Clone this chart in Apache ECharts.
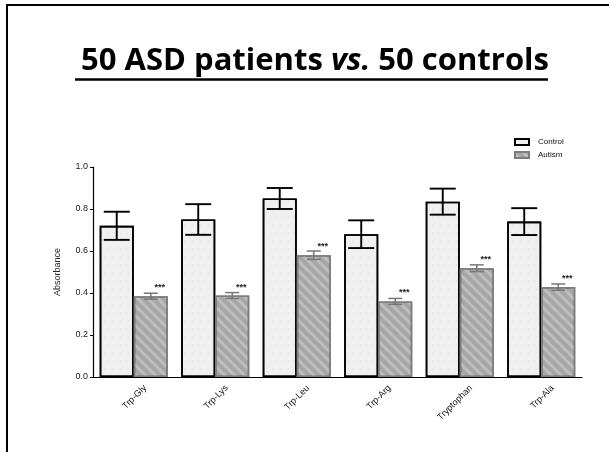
<!DOCTYPE html>
<html>
<head>
<meta charset="utf-8">
<script src="https://cdn.jsdelivr.net/npm/echarts@6/dist/echarts.min.js"></script>
<style>html,body{margin:0;padding:0;background:#fff;}#c{width:609px;height:452px;}</style>
</head>
<body>
<div id="c"></div>
<script>
var categories = ['Trp-Gly', 'Trp-Lys', 'Trp-Leu', 'Trp-Arg', 'Tryptophan', 'Trp-Ala'];
var controlMean = [0.72, 0.75, 0.85, 0.68, 0.835, 0.74];
var controlErr  = [0.067, 0.073, 0.05, 0.066, 0.062, 0.064];
var autismMean  = [0.385, 0.388, 0.58, 0.36, 0.518, 0.428];
var autismErr   = [0.014, 0.014, 0.02, 0.014, 0.016, 0.015];
var yTicks = [0.0, 0.2, 0.4, 0.6, 0.8, 1.0];
var seriesNames = ['Control', 'Autism'];
var sigMark = '***';

var chart = echarts.init(document.getElementById('c'), null, {renderer: 'canvas'});
var CAT_GAP = 0.165;

function errRender(side, errArr, color, capHalf, lw) {
  return function (params, api) {
    var i = api.value(0);
    var m = api.value(1);
    var e = errArr[i];
    var catW = api.size([1, 0])[0];
    var bw = catW * (1 - CAT_GAP) / 2;
    var c = api.coord([i, m]);
    var x = c[0] + side * bw / 2;
    var top = api.coord([i, m + e])[1];
    var bot = api.coord([i, m - e])[1];
    var st = {stroke: color, lineWidth: lw};
    return {
      type: 'group',
      children: [
        {type: 'line', shape: {x1: x, y1: top, x2: x, y2: bot}, style: st},
        {type: 'line', shape: {x1: x - capHalf, y1: top, x2: x + capHalf, y2: top}, style: st},
        {type: 'line', shape: {x1: x - capHalf, y1: bot, x2: x + capHalf, y2: bot}, style: st}
      ]
    };
  };
}

var TF = '"Open Sans", Roboto, sans-serif';
var option = {
  backgroundColor: '#fff',
  animation: false,
  title: {
    text: '{a|50 ASD patients }{b|vs.}{a| 50 controls}',
    left: 310,
    textAlign: 'center',
    top: 41,
    textStyle: {
      rich: {
        a: {fontFamily: TF, fontWeight: 'bold', fontSize: 31, color: '#000'},
        b: {fontFamily: TF, fontWeight: 'bold', fontStyle: 'italic', fontSize: 31, color: '#000'}
      }
    }
  },
  graphic: [
    {type: 'rect', shape: {x: 7, y: 5, width: 620, height: 470}, style: {fill: 'none', stroke: '#000', lineWidth: 2}, silent: true},
    {type: 'line', shape: {x1: 75, y1: 79.5, x2: 548, y2: 79.5}, style: {stroke: '#000', lineWidth: 2.5}, silent: true}
  ],
  legend: {
    data: seriesNames,
    orient: 'vertical',
    left: 509,
    top: 133,
    itemWidth: 14,
    itemHeight: 6,
    itemGap: 5,
    icon: 'rect',
    textStyle: {fontSize: 8, color: '#111', fontFamily: 'Liberation Sans, sans-serif', padding: [0, 0, 0, 4]}
  },
  grid: {left: 93, right: 27, top: 167, bottom: 75, containLabel: false},
  xAxis: {
    type: 'category',
    data: categories,
    axisLine: {lineStyle: {color: '#000', width: 1.2}},
    axisTick: {show: false},
    axisLabel: {
      rotate: 45,
      fontSize: 9,
      color: '#111',
      fontFamily: 'Liberation Sans, sans-serif',
      margin: 21,
      interval: 0,
      padding: [0, -16, 0, 0]
    }
  },
  yAxis: {
    type: 'value',
    min: 0,
    max: 1.0,
    interval: 0.2,
    name: 'Absorbance',
    nameLocation: 'middle',
    nameRotate: 90,
    nameGap: 31,
    nameTextStyle: {fontSize: 9, color: '#222', fontFamily: 'Liberation Sans, sans-serif'},
    splitLine: {show: false},
    axisLine: {show: true, lineStyle: {color: '#000', width: 1.2}},
    axisTick: {show: true, length: 3, lineStyle: {color: '#000'}},
    axisLabel: {
      fontSize: 9,
      color: '#222',
      margin: 5,
      fontFamily: 'Liberation Sans, sans-serif',
      formatter: function (v) {
        for (var k = 0; k < yTicks.length; k++) {
          if (Math.abs(yTicks[k] - v) < 1e-9) return yTicks[k].toFixed(1);
        }
        return '';
      }
    }
  },
  series: [
    {
      name: seriesNames[0],
      type: 'bar',
      data: controlMean,
      barGap: '0%',
      barCategoryGap: (CAT_GAP * 100) + '%',
      itemStyle: {
        color: '#f0f0f0',
        borderColor: '#000',
        borderWidth: 1.6,
        decal: {
          symbol: 'circle',
          symbolSize: 0.5,
          dashArrayX: [[1, 5], [1, 7]],
          dashArrayY: [2, 6],
          color: 'rgba(0,0,0,0.45)'
        }
      },
      z: 2
    },
    {
      name: seriesNames[1],
      type: 'bar',
      data: autismMean,
      itemStyle: {
        color: '#a6a6a6',
        borderColor: '#7c7c7c',
        borderWidth: 1.6,
        decal: {
          symbol: 'rect',
          symbolSize: 1,
          rotation: Math.PI / 4,
          dashArrayX: [1, 0],
          dashArrayY: [3, 4],
          color: 'rgba(210,210,210,0.55)'
        }
      },
      label: {
        show: true,
        position: 'top',
        distance: 4,
        offset: [9, 0],
        formatter: sigMark,
        fontSize: 9,
        fontWeight: 'bold',
        color: '#222'
      },
      z: 2
    },
    {
      type: 'custom',
      name: 'ctrlErr',
      renderItem: errRender(-1, controlErr, '#000', 13, 1.9),
      data: controlMean.map(function (v, i) { return [i, v]; }),
      encode: {x: 0, y: 1},
      z: 5,
      silent: true
    },
    {
      type: 'custom',
      name: 'autErr',
      renderItem: errRender(1, autismErr, '#777', 7, 1.5),
      data: autismMean.map(function (v, i) { return [i, v]; }),
      encode: {x: 0, y: 1},
      z: 5,
      silent: true
    }
  ]
};
chart.setOption(option);
</script>
</body>
</html>
